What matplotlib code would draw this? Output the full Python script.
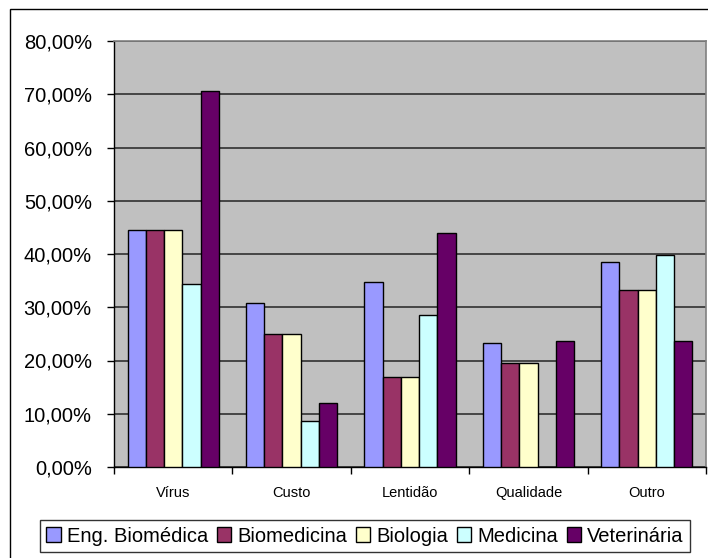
import matplotlib
matplotlib.use("Agg")
import matplotlib.pyplot as plt
import numpy as np
from matplotlib.patches import Rectangle

plt.rcParams['font.family'] = ['Liberation Sans', 'DejaVu Sans']

categories = ["Vírus", "Custo", "Lentidão", "Qualidade", "Outro"]
series_names = ["Eng. Biomédica", "Biomedicina", "Biologia", "Medicina", "Veterinária"]
eng_biomedica = [44.45, 30.85, 34.7, 23.2, 38.55]
biomedicina = [44.6, 25.0, 16.9, 19.6, 33.3]
biologia = [44.6, 25.0, 16.9, 19.6, 33.3]
medicina = [34.4, 8.6, 28.6, 0.0, 39.9]
veterinaria = [70.6, 11.95, 44.0, 23.7, 23.7]
y_ticks = [0, 10, 20, 30, 40, 50, 60, 70, 80]

series = [eng_biomedica, biomedicina, biologia, medicina, veterinaria]
colors = ["#9999FF", "#993366", "#FFFFCC", "#CCFFFF", "#660066"]

W, H = 708, 558
fig = plt.figure(figsize=(W / 100, H / 100), dpi=100)

# outer chart frame
fig.patches.append(Rectangle((10 / W, -0.1), 1.2, (H - 9) / H + 0.1,
                             transform=fig.transFigure, fill=False,
                             edgecolor="black", linewidth=1.0))

ax = fig.add_axes([114 / W, 1 - 467 / H, (706 - 114) / W, (467 - 41) / H])
ax.set_facecolor("#C0C0C0")

n = len(series)
bar_w = 1 / (n + 1.5)
x = np.arange(len(categories))
handles = []
for i, (vals, c, name) in enumerate(zip(series, colors, series_names)):
    offs = (i - (n - 1) / 2) * bar_w
    b = ax.bar(x + offs, vals, width=bar_w, color=c, edgecolor="black",
               linewidth=1.0, label=name, zorder=3)
    handles.append(b)

ax.set_xlim(-0.5, len(categories) - 0.5)
ax.set_ylim(0, 80)
ax.set_yticks(y_ticks)
ax.set_yticklabels([f"{v:.2f}".replace(".", ",") + "%" for v in y_ticks])
ax.yaxis.grid(True, color="#303030", linewidth=1.2, zorder=1)
ax.set_axisbelow(True)

ax.set_xticks(x)
ax.set_xticklabels(categories, fontsize=10.5)
ax.tick_params(axis="x", which="major", length=0, pad=14)
ax.set_xticks(np.arange(-0.5, len(categories)), minor=True)
ax.tick_params(axis="x", which="minor", length=5, width=1, direction="out")
ax.tick_params(axis="y", length=5, width=1, direction="out", pad=11, labelsize=14.5)

for side in ("top", "right"):
    ax.spines[side].set_color("#808080")
    ax.spines[side].set_linewidth(1.2)
for side in ("left", "bottom"):
    ax.spines[side].set_color("black")
    ax.spines[side].set_linewidth(1.0)

leg = fig.legend(handles=handles, labels=series_names, ncol=5,
                 loc="center", bbox_to_anchor=(365 / W, 1 - 536 / H),
                 fontsize=14.5, frameon=True, fancybox=False, edgecolor="black",
                 handlelength=0.7, handleheight=0.7, handletextpad=0.3,
                 columnspacing=0.45, borderpad=0.3, borderaxespad=0)
leg.get_frame().set_linewidth(1.0)

fig.savefig("out.png", dpi=100)
